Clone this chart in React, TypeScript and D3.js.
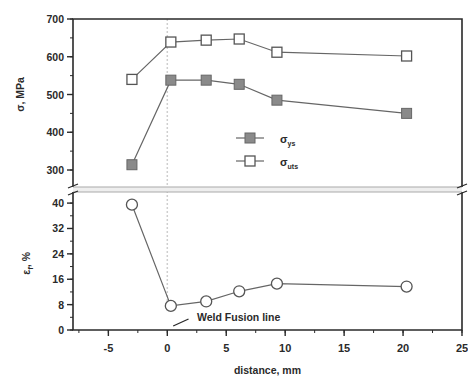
import React from 'react';
import * as d3 from 'd3';

const distances = [-3, 0.3, 3.3, 6.1, 9.3, 20.3];
const ysValues = [314, 538, 538, 527, 485, 450];
const utsValues = [540, 639, 644, 647, 612, 602];
const elongValues = [39.5, 7.6, 9, 12.2, 14.6, 13.7];
const xTicks = [-5, 0, 5, 10, 15, 20, 25];
const sigmaTicks = [300, 400, 500, 600, 700];
const elongTicks = [0, 8, 16, 24, 32, 40];

const W = 468, H = 380;
const left = 73, right = 462;
const topY = 19, topBottom = 187;
const botTop = 192, botBottom = 330;

const App = () => {
  const x = d3.scaleLinear().domain([-8, 25]).range([left, right]);
  const ySig = d3.scaleLinear().domain([255, 700]).range([topBottom, topY]);
  const yEl = d3.scaleLinear().domain([0, 43.5]).range([botBottom, botTop]);
  const ink = '#2a2a2a';
  const lineCol = '#666';
  const font = 'Liberation Sans, Arial, sans-serif';

  const line = (ys: number[], yScale: d3.ScaleLinear<number, number>) =>
    d3.line<number>().x((_, i) => x(distances[i])).y((v) => yScale(v))(ys) || '';

  const minorSig = d3.range(250, 701, 50).filter((v) => v >= 255);
  const minorEl = d3.range(0, 44, 4);
  const minorX = d3.range(-7.5, 25.1, 2.5);

  return (
    <svg width={W} height={H} style={{ position: 'absolute', left: 0, top: 0 }}>
      <rect width={W} height={H} fill="#fff" />
      {/* fusion line */}
      <line x1={x(0)} x2={x(0)} y1={topY} y2={botBottom - 20} stroke="#cfcfcf" strokeDasharray="2,2" strokeWidth={1.5} />
      {/* top panel frame */}
      <path d={`M${left},${topBottom}V${topY}H${right}V${topBottom}`} fill="none" stroke={ink} strokeWidth={1.6} />
      <path d={`M${left},${botTop}V${botBottom}H${right}V${botTop}`} fill="none" stroke={ink} strokeWidth={1.6} />
      {/* break band */}
      <rect x={left} y={topBottom} width={right - left} height={botTop - topBottom} fill="#eee" />
      <line x1={left} x2={right} y1={topBottom} y2={topBottom} stroke="#aaa" strokeWidth={1.2} />
      <line x1={left} x2={right} y1={botTop} y2={botTop} stroke="#aaa" strokeWidth={1.2} />
      {[left, right].map((bx) => (
        <g key={bx} stroke={ink} strokeWidth={1.3}>
          <line x1={bx - 5} x2={bx + 5} y1={topBottom + 1} y2={topBottom - 3} />
          <line x1={bx - 5} x2={bx + 5} y1={botTop + 3} y2={botTop - 1} />
        </g>
      ))}
      {/* top y ticks */}
      {minorSig.map((v) => (
        <line key={'ms' + v} x1={left - 3} x2={left} y1={ySig(v)} y2={ySig(v)} stroke={ink} />
      ))}
      {sigmaTicks.map((v) => (
        <g key={'s' + v}>
          <line x1={left - 6} x2={left} y1={ySig(v)} y2={ySig(v)} stroke={ink} strokeWidth={1.4} />
          <text x={left - 9} y={ySig(v) + 4} textAnchor="end" fontSize={10.5} fontWeight="bold" fontFamily={font} fill={ink}>{v}</text>
        </g>
      ))}
      {/* bottom y ticks */}
      {minorEl.map((v) => (
        <line key={'me' + v} x1={left - 3} x2={left} y1={yEl(v)} y2={yEl(v)} stroke={ink} />
      ))}
      {elongTicks.map((v) => (
        <g key={'e' + v}>
          <line x1={left - 6} x2={left} y1={yEl(v)} y2={yEl(v)} stroke={ink} strokeWidth={1.4} />
          <text x={left - 9} y={yEl(v) + 4} textAnchor="end" fontSize={10.5} fontWeight="bold" fontFamily={font} fill={ink}>{v}</text>
        </g>
      ))}
      {/* x ticks */}
      {minorX.map((v) => (
        <line key={'mx' + v} x1={x(v)} x2={x(v)} y1={botBottom} y2={botBottom + 3} stroke={ink} />
      ))}
      {xTicks.map((v) => (
        <g key={'x' + v}>
          <line x1={x(v)} x2={x(v)} y1={botBottom} y2={botBottom + 6} stroke={ink} strokeWidth={1.4} />
          <text x={x(v)} y={botBottom + 22} textAnchor="middle" fontSize={11} fontWeight="bold" fontFamily={font} fill={ink}>{v}</text>
        </g>
      ))}
      {/* axis titles */}
      <text transform={`translate(24,${ySig(500)}) rotate(-90)`} textAnchor="middle" fontSize={10.5} fontWeight="bold" fontFamily={font} fill={ink}>σ, MPa</text>
      <text transform={`translate(30,${yEl(21)}) rotate(-90)`} textAnchor="middle" fontSize={10.5} fontWeight="bold" fontFamily={font} fill={ink}>
        ε<tspan fontSize={8} dy={3}>f</tspan><tspan dy={-3}>, %</tspan>
      </text>
      <text x={x(8.5)} y={374} textAnchor="middle" fontSize={10.5} fontWeight="bold" fontFamily={font} fill={ink}>distance, mm</text>
      {/* series lines */}
      <path d={line(utsValues, ySig)} fill="none" stroke={lineCol} strokeWidth={1.2} />
      <path d={line(ysValues, ySig)} fill="none" stroke={lineCol} strokeWidth={1.2} />
      <path d={line(elongValues, yEl)} fill="none" stroke={lineCol} strokeWidth={1.2} />
      {/* markers */}
      {distances.map((d, i) => (
        <g key={'m' + i}>
          <rect x={x(d) - 5} y={ySig(utsValues[i]) - 5} width={10} height={10} fill="#fff" stroke="#555" strokeWidth={1.3} />
          <rect x={x(d) - 5} y={ySig(ysValues[i]) - 5} width={10} height={10} fill="#8a8a8a" stroke="#666" strokeWidth={1} />
          <circle cx={x(d)} cy={yEl(elongValues[i])} r={5.5} fill="#fff" stroke="#555" strokeWidth={1.3} />
        </g>
      ))}
      {/* legend */}
      <g fontFamily={font} fill={ink}>
        <line x1={236} x2={264} y1={138} y2={138} stroke={lineCol} strokeWidth={1.2} />
        <rect x={245} y={133} width={10} height={10} fill="#8a8a8a" stroke="#666" />
        <text x={280} y={143} fontSize={11} fontWeight="bold">σ<tspan fontSize={7} dy={3}>ys</tspan></text>
        <line x1={236} x2={264} y1={161} y2={161} stroke={lineCol} strokeWidth={1.2} />
        <rect x={245} y={156} width={10} height={10} fill="#fff" stroke="#555" strokeWidth={1.3} />
        <text x={280} y={166} fontSize={11} fontWeight="bold">σ<tspan fontSize={7} dy={3}>uts</tspan></text>
      </g>
      {/* annotation */}
      <line x1={x(0.5)} x2={x(1.8)} y1={326} y2={319} stroke={ink} strokeWidth={1.3} />
      <text x={197} y={321} fontSize={10.5} fontWeight="bold" fontFamily={font} fill={ink}>Weld Fusion line</text>
    </svg>
  );
};

export default App;
